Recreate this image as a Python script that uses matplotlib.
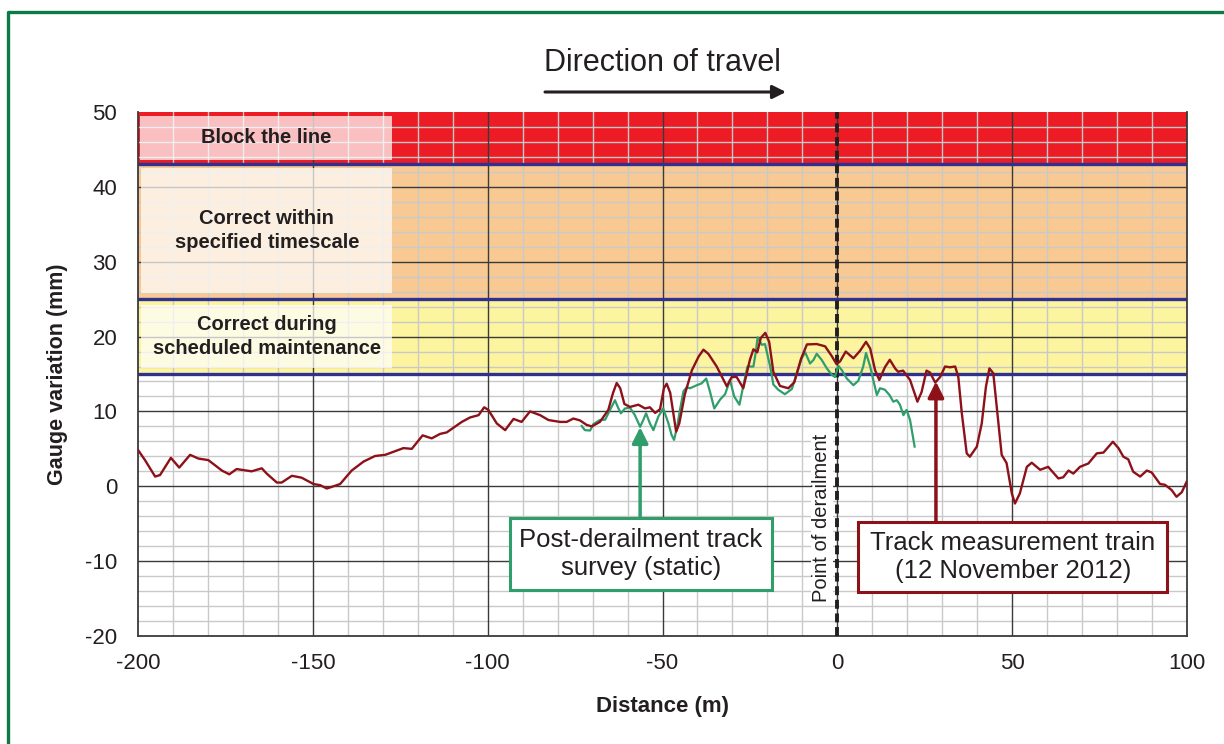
import matplotlib
matplotlib.use("Agg")
import matplotlib.pyplot as plt
from matplotlib import font_manager
from matplotlib.lines import Line2D
from matplotlib.patches import Rectangle, FancyArrowPatch

# ---------------- data ----------------
red_x = [-200, -198, -195.1, -193.7, -190.6, -188.2, -185.1, -182.7, -179.9, -176.0, -173.9, -171.8,
         -167.5, -164.6, -163.2, -160.3, -158.9, -156.0, -153.2, -149.8, -147.9, -146.0, -144.1, -142.2,
         -138.9, -135.5, -132.2, -129.3, -124.1, -121.7, -118.6, -116.0, -113.6, -111.7, -107.4, -105.0,
         -102.6, -101.0, -99.8, -97.4, -95.0, -92.6, -90.3, -87.9, -85.0, -82.6, -79.3, -77.4, -75.5,
         -73.6, -71.7, -70.2, -67.9, -65.5, -64.2, -63.1, -62.1, -60.9, -59.3, -56.9, -55.0, -53.6,
         -52.1, -50.7, -49.6, -48.8, -47.8, -46.1, -45.2, -43.6, -41.6, -39.7, -38.3, -36.9, -34.5,
         -31.6, -30.2, -28.8, -26.9, -25.0, -24.0, -22.9, -21.9, -20.6, -19.5, -18.3, -16.4, -14.0,
         -12.3, -10.4, -8.7, -5.9, -3.5, -1.6, -0.2, 0.8, 2.4, 4.6, 6.5, 8.2, 9.4, 10.8, 12.0, 13.6,
         15.0, 16.6, 17.4, 18.8, 20.8, 22.9, 24.1, 25.5, 26.5, 28.0, 29.4, 30.8, 32.2, 33.7, 34.6,
         35.6, 37.0, 37.9, 39.9, 41.3, 42.5, 43.5, 44.6, 45.6, 47.0, 48.4, 49.9, 50.8, 52.2, 54.2,
         55.6, 58.0, 60.3, 63.2, 64.6, 66.1, 67.5, 69.4, 71.8, 74.2, 76.1, 78.8, 80.4, 81.8, 83.2,
         84.6, 86.6, 88.5, 89.9, 92.3, 93.7, 95.6, 97.0, 98.5, 99.9]
red_y = [4.85, 3.5, 1.3, 1.5, 3.8, 2.5, 4.2, 3.7, 3.5, 2.1, 1.6, 2.3,
         2.0, 2.4, 1.7, 0.5, 0.5, 1.4, 1.15, 0.3, 0.15, -0.3, 0.0, 0.3,
         2.1, 3.3, 4.05, 4.2, 5.1, 5.0, 6.8, 6.4, 7.0, 7.2, 8.6, 9.2,
         9.5, 10.55, 10.2, 8.4, 7.5, 9.0, 8.6, 10.0, 9.5, 8.85, 8.6, 8.6, 9.05,
         8.8, 8.2, 8.0, 8.6, 10.2, 12.4, 13.8, 13.1, 11.0, 10.6, 10.9, 10.4, 10.55,
         9.8, 10.3, 13.1, 13.7, 12.5, 7.3, 8.4, 12.3, 15.5, 17.3, 18.25, 17.7, 16.0,
         13.35, 14.6, 14.6, 13.1, 16.9, 18.3, 17.9, 19.8, 20.5, 19.3, 15.3, 13.4, 13.1,
         13.9, 17.0, 18.95, 19.0, 18.7, 17.4, 16.3, 16.7, 18.0, 17.1, 18.1, 19.3, 18.4, 15.5, 14.2, 15.9,
         16.9, 15.7, 15.3, 15.45, 14.2, 11.3, 12.6, 15.45, 15.2, 13.85, 14.6, 16.0, 15.9, 16.0, 14.6,
         9.75, 4.4, 3.95, 5.3, 8.4, 13.3, 15.75, 15.1, 10.6, 4.2, 3.1, -0.95, -2.3, -0.95, 2.6,
         3.15, 2.2, 2.6, 1.05, 1.2, 2.1, 1.7, 2.6, 3.05, 4.4, 4.5, 5.95, 5.1, 3.95, 3.6,
         1.95, 1.3, 2.1, 1.85, 0.3, 0.2, -0.5, -1.4, -0.8, 0.6]

green_x = [-73.1, -72.2, -70.7, -69.8, -67.9, -66.4, -65.0, -63.6, -62.6, -61.9, -60.7, -59.3, -57.9,
           -56.4, -55.5, -54.7, -53.6, -52.6, -51.2, -49.8, -48.3, -47.4, -46.7, -45.8, -45.0, -44.0,
           -43.1, -42.1, -40.2, -38.8, -37.5, -36.4, -35.2, -33.5, -32.1, -30.7, -29.5, -28.0, -26.9,
           -25.7, -24.0, -23.3, -22.8, -21.6, -20.7, -19.2, -18.3, -16.9, -15.0, -13.0, -11.6, -10.2,
           -9.2, -7.8, -6.8, -5.9, -4.5, -3.0, -1.6, -0.7, 0.3, 1.3, 2.7, 4.6, 6.0, 7.4, 8.2, 9.4,
           10.5, 11.3, 12.2, 13.6, 14.9, 16.0, 17.0, 17.9, 18.9, 19.8, 20.8, 22.1]
green_y = [8.05, 7.5, 7.45, 8.3, 8.85, 8.9, 10.2, 11.5, 10.4, 9.75, 10.4, 10.5, 9.5,
           7.95, 8.85, 9.75, 8.4, 7.5, 9.3, 10.4, 8.4, 6.85, 6.2, 7.95, 10.2, 12.7,
           13.2, 13.1, 13.5, 13.75, 14.4, 12.6, 10.4, 11.6, 12.3, 14.2, 12.0, 10.9, 13.4,
           16.0, 16.0, 18.0, 19.9, 18.9, 19.0, 16.0, 13.6, 12.9, 12.3, 13.0, 15.1, 17.1,
           17.9, 16.4, 16.9, 17.7, 16.9, 15.75, 14.9, 14.6, 16.1, 15.5, 14.4, 13.5, 14.1, 16.0, 17.8, 16.0,
           13.75, 12.2, 13.1, 12.9, 12.2, 11.3, 11.5, 10.9, 9.5, 10.2, 8.85, 5.3]

band_limits = [15, 25, 43, 50]
band_labels = ["Correct during\nscheduled maintenance",
               "Correct within\nspecified timescale",
               "Block the line"]
x_ticks = [-200, -150, -100, -50, 0, 50, 100]
y_ticks = [-20, -10, 0, 10, 20, 30, 40, 50]

# ---------------- fonts ----------------
avail = {f.name for f in font_manager.fontManager.ttflist}
narrow = "Liberation Sans Narrow" if "Liberation Sans Narrow" in avail else "Liberation Sans"
base = "Liberation Sans" if "Liberation Sans" in avail else "DejaVu Sans"
plt.rcParams["font.family"] = [base, "DejaVu Sans"]
plt.rcParams["axes.unicode_minus"] = False

TXT = "#231f20"
RED = "#8c1119"
GREEN = "#2f9e6a"
BLUE = "#2e3192"

fig = plt.figure(figsize=(12.24, 7.44), dpi=100)
ax = fig.add_axes([138 / 1224, 1 - 636 / 744, (1187 - 138) / 1224, (636 - 112) / 744])

ax.set_xlim(-200, 100)
ax.set_ylim(-20, 50)

# bands
band_colors = ["#fcf49e", "#f9c994", "#ed1c24"]
for (lo, hi), c in zip(zip(band_limits[:-1], band_limits[1:]), band_colors):
    ax.axhspan(lo, hi, color=c, zorder=0, lw=0)

# grid (drawn manually: minor light, major dark)
for xv in range(-200, 101, 10):
    if xv not in x_ticks:
        ax.axvline(xv, color="#c9c9c9", lw=1.0, zorder=1)
for yv in range(-20, 51, 2):
    if yv not in y_ticks:
        ax.axhline(yv, color="#c9c9c9", lw=1.0, zorder=1)
for xv in x_ticks[1:-1]:
    ax.axvline(xv, color="#3a3a3a", lw=1.0, zorder=1.5)
for yv in y_ticks[1:-1]:
    ax.axhline(yv, color="#3a3a3a", lw=1.0, zorder=1.5)

ax.set_xticks(x_ticks)
ax.set_yticks(y_ticks)
ax.tick_params(which="both", length=0)
ax.tick_params(axis="y", labelsize=16, pad=15, colors=TXT)
ax.tick_params(axis="x", labelsize=16, pad=12, colors=TXT)

# threshold lines
for lim in band_limits[:-1]:
    ax.axhline(lim, color=BLUE, lw=2.4, zorder=2)

# label boxes
box_geo = [(-199.0, 15.8, 24.2), (-199.0, 25.8, 42.5), (-199.4, 43.6, 49.5)]
for (x0, y0, y1), lab in zip(box_geo, band_labels):
    ax.add_patch(Rectangle((x0, y0), -127.3 - x0, y1 - y0, facecolor="white",
                           alpha=0.72, lw=0, zorder=2.5))
    ax.text((x0 - 127.3) / 2, (y0 + y1) / 2, lab, ha="center", va="center",
            fontsize=14.5, fontweight="bold", color=TXT, zorder=3, linespacing=1.3)

# point of derailment
ax.axvline(0, color="#231f20", lw=2.8, dashes=(2.3, 1.2), zorder=4)
ax.text(-4.4, -4.2, "Point of derailment", rotation=90, ha="center", va="center",
        fontsize=14.5, color=TXT, family=[narrow, "DejaVu Sans"], zorder=4,
        bbox=dict(facecolor="white", edgecolor="none", pad=1))

# curves
ax.plot(green_x, green_y, color=GREEN, lw=1.6, zorder=5)
ax.plot(red_x, red_y, color=RED, lw=1.7, zorder=6)

# annotation boxes with arrows
ax.annotate("", xy=(-56.4, 7.9), xytext=(-56.4, -4.2),
            arrowprops=dict(arrowstyle="-|>", color=GREEN, lw=2.5, mutation_scale=24,
                            shrinkA=0, shrinkB=0), zorder=7)
ax.add_patch(Rectangle((-93.6, -13.9), 74.9, 9.7, facecolor="white", edgecolor=GREEN,
                       lw=2.2, zorder=8))
ax.text(-56.15, -9.05, "Post-derailment track\nsurvey (static)", ha="center", va="center",
        fontsize=18.5, color=TXT, family=[narrow, "DejaVu Sans"], zorder=9, linespacing=1.25)

ax.annotate("", xy=(28.2, 14.0), xytext=(28.2, -4.8),
            arrowprops=dict(arrowstyle="-|>", color=RED, lw=2.5, mutation_scale=24,
                            shrinkA=0, shrinkB=0), zorder=7)
ax.add_patch(Rectangle((6.0, -14.1), 88.3, 9.3, facecolor="white", edgecolor=RED,
                       lw=2.2, zorder=8))
ax.text(50.15, -9.45, "Track measurement train\n(12 November 2012)", ha="center", va="center",
        fontsize=18.5, color=TXT, family=[narrow, "DejaVu Sans"], zorder=9, linespacing=1.25)

# spines
for s in ["left", "bottom", "right"]:
    ax.spines[s].set_color("#3a3a3a")
    ax.spines[s].set_linewidth(1.3)
ax.spines["top"].set_visible(False)

ax.set_ylabel("Gauge variation (mm)", fontsize=15.5, fontweight="bold", color=TXT, labelpad=12)
ax.set_xlabel("Distance (m)", fontsize=16, fontweight="bold", color=TXT, labelpad=16)

# direction of travel
fig.text(662 / 1224, 1 - 63 / 744, "Direction of travel", ha="center", va="center",
         fontsize=22, color=TXT, family=[narrow, "DejaVu Sans"])
fig.add_artist(FancyArrowPatch(
    (545 / 1224, 1 - 92 / 744), (786 / 1224, 1 - 92 / 744), transform=fig.transFigure,
    arrowstyle="-|>", mutation_scale=20, lw=2.2, color=TXT, shrinkA=0, shrinkB=0))

# green frame (left + top)
fig.add_artist(Line2D([8 / 1224, 8 / 1224, 1.01], [-0.01, 1 - 12 / 744, 1 - 12 / 744],
                      transform=fig.transFigure, color="#0b7a45", lw=2.4))

fig.savefig("out.png", dpi=100, facecolor="white")
